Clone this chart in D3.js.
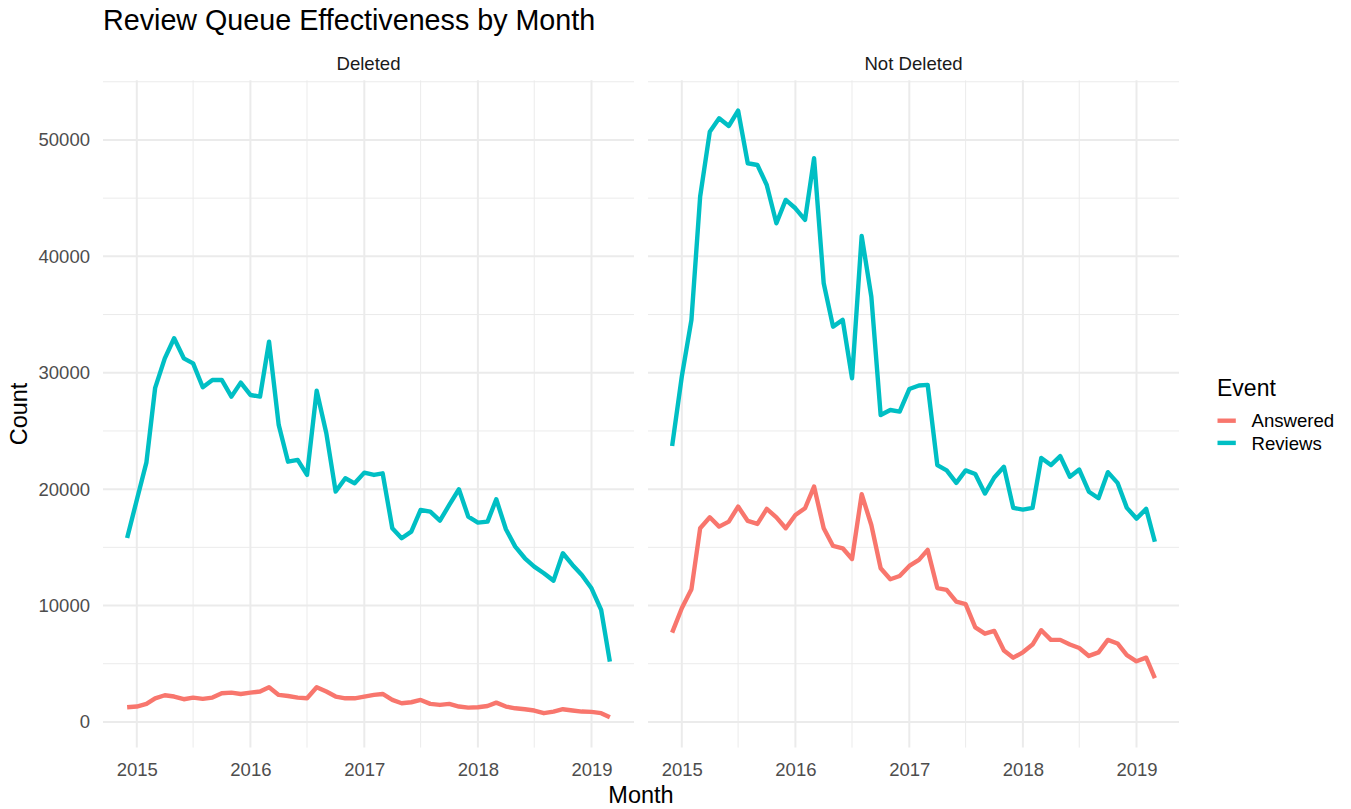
<!DOCTYPE html>
<html><head><meta charset="utf-8">
<script src="https://cdn.jsdelivr.net/npm/d3@7"></script>
<style>
body{margin:0;background:#fff}
text{font-family:"Liberation Sans",Arial,Helvetica,sans-serif}
</style>
</head><body>
<svg id="chart" width="1351" height="809"></svg>
<script>
// ---------- DATA ----------
const months = ["2014-12","2015-01","2015-02","2015-03","2015-04","2015-05","2015-06","2015-07","2015-08","2015-09","2015-10","2015-11","2015-12",
"2016-01","2016-02","2016-03","2016-04","2016-05","2016-06","2016-07","2016-08","2016-09","2016-10","2016-11","2016-12",
"2017-01","2017-02","2017-03","2017-04","2017-05","2017-06","2017-07","2017-08","2017-09","2017-10","2017-11","2017-12",
"2018-01","2018-02","2018-03","2018-04","2018-05","2018-06","2018-07","2018-08","2018-09","2018-10","2018-11","2018-12",
"2019-01","2019-02","2019-03"];
const facets = ["Deleted","Not Deleted"];
const events = ["Answered","Reviews"];
const eventColors = ["#F8766D","#00BFC4"];

const deletedAnswered = [1260,1320,1550,2030,2290,2180,1950,2090,1980,2090,2460,2520,2400,
2520,2610,2980,2320,2230,2090,2030,2980,2610,2180,2030,2030,
2180,2320,2400,1890,1600,1690,1890,1550,1460,1550,1320,1230,
1260,1370,1660,1320,1170,1090,980,750,890,1090,980,890,
860,750,400];
const deletedReviews = [15800,19070,22300,28700,31240,32960,31240,30810,28750,29380,29380,27950,29150,
28090,27950,32670,25520,22360,22510,21220,28460,24800,19790,20940,20500,
21420,21220,21360,16640,15780,16350,18210,18070,17300,18640,19990,17640,
17120,17210,19130,16550,15060,14060,13340,12770,12140,14490,13490,12630,
11480,9620,5180];
const notDeletedAnswered = [7670,9770,11400,16640,17580,16780,17210,18500,17270,17010,18300,17580,16640,
17780,18360,20220,16640,15120,14920,14000,19560,16920,13200,12260,12540,
13400,13920,14780,11500,11340,10330,10120,8130,7580,7820,6130,5520,
5980,6650,7880,7050,7050,6650,6350,5670,5980,7050,6740,5730,
5210,5520,3770];
const notDeletedReviews = [23710,29670,34540,45130,50710,51860,51200,52520,48000,47850,46130,42840,44850,
44130,43130,48430,37690,33960,34540,29530,41750,36540,26370,26800,26660,
28600,28900,28960,22070,21610,20540,21610,21300,19620,21000,21920,18390,
18240,18390,22680,22070,22830,21060,21680,19780,19220,21460,20540,18390,
17470,18300,15480];

const yTicks = [0,10000,20000,30000,40000,50000];
const xTickLabels = ["2015","2016","2017","2018","2019"];

// ---------- LAYOUT ----------
const svg = d3.select("#chart");
const plotLeft = 103, plotRight = 1179, panelGap = 14;
const panelW = (plotRight - plotLeft - panelGap) / 2;
const panelTop = 80.3, panelBottom = 747.6;
const font = '"Liberation Sans",Arial,Helvetica,sans-serif';

const parse = d3.timeParse("%Y-%m");
const dates = months.map(parse);

const seriesByFacet = [
  [deletedAnswered, deletedReviews],
  [notDeletedAnswered, notDeletedReviews]
];

// shared scales (ggplot-like 5% expansion)
const allVals = seriesByFacet.flat(2);
const yMin = d3.min(allVals), yMax = d3.max(allVals);
const yPad = (yMax - yMin) * 0.05;
const y = d3.scaleLinear().domain([yMin - yPad, yMax + yPad]).range([panelBottom, panelTop]);

const t0 = dates[0].getTime(), t1 = dates[dates.length-1].getTime();
const tPad = (t1 - t0) * 0.05;
const xDomain = [new Date(t0 - tPad), new Date(t1 + tPad)];

const yMinor = d3.range(5000, 60000, 10000).filter(v => v > y.domain()[0] && v < y.domain()[1]);
const xTickDates = xTickLabels.map(s => new Date(+s, 0, 1));
const xMinorDates = xTickLabels.map(s => new Date(+s, 6, 1))
  .concat([new Date(+xTickLabels[0]-1, 6, 1)])
  .filter(d => d > xDomain[0] && d < xDomain[1]);

// ---------- TITLE ----------
svg.append("text").attr("x", 103).attr("y", 29.5)
  .attr("font-size", 28.7).attr("fill", "#000")
  .text("Review Queue Effectiveness by Month");

facets.forEach((fname, fi) => {
  const px0 = plotLeft + fi * (panelW + panelGap);
  const x = d3.scaleTime().domain(xDomain).range([px0, px0 + panelW]);
  const g = svg.append("g");

  // minor grid
  g.selectAll("line.ymin").data(yMinor).join("line")
    .attr("x1", px0).attr("x2", px0 + panelW)
    .attr("y1", d => y(d)).attr("y2", d => y(d))
    .attr("stroke", "#ebebeb").attr("stroke-width", 1);
  g.selectAll("line.xmin").data(xMinorDates).join("line")
    .attr("y1", panelTop).attr("y2", panelBottom)
    .attr("x1", d => x(d)).attr("x2", d => x(d))
    .attr("stroke", "#ebebeb").attr("stroke-width", 1);
  // major grid
  g.selectAll("line.ymaj").data(yTicks).join("line")
    .attr("x1", px0).attr("x2", px0 + panelW)
    .attr("y1", d => y(d)).attr("y2", d => y(d))
    .attr("stroke", "#ebebeb").attr("stroke-width", 2);
  g.selectAll("line.xmaj").data(xTickDates).join("line")
    .attr("y1", panelTop).attr("y2", panelBottom)
    .attr("x1", d => x(d)).attr("x2", d => x(d))
    .attr("stroke", "#ebebeb").attr("stroke-width", 2);

  // strip label
  svg.append("text").attr("x", px0 + panelW / 2).attr("y", 70)
    .attr("text-anchor", "middle").attr("font-size", 18.6).attr("fill", "#1a1a1a")
    .text(fname);

  // lines
  const line = d3.line().x((d, i) => x(dates[i])).y(d => y(d));
  seriesByFacet[fi].forEach((vals, si) => {
    g.append("path").datum(vals)
      .attr("d", line)
      .attr("fill", "none")
      .attr("stroke", eventColors[si])
      .attr("stroke-width", 4.4)
      .attr("stroke-linejoin", "round")
      .attr("stroke-linecap", "butt");
  });

  // x axis
  const xAxis = d3.axisBottom(x).tickValues(xTickDates)
    .tickFormat(d3.timeFormat("%Y")).tickSize(0).tickPadding(15);
  const xa = svg.append("g").attr("transform", `translate(0,${panelBottom})`).call(xAxis);
  xa.select(".domain").remove();
  xa.selectAll("text").attr("font-size", 18.5).attr("fill", "#4d4d4d").attr("font-family", font);

  if (fi === 0) {
    const yAxis = d3.axisLeft(y).tickValues(yTicks).tickFormat(d3.format("d")).tickSize(0).tickPadding(13);
    const ya = svg.append("g").attr("transform", `translate(${px0},0)`).call(yAxis);
    ya.select(".domain").remove();
    ya.selectAll("text").attr("font-size", 18.5).attr("fill", "#4d4d4d").attr("font-family", font);
  }
});

// axis titles
svg.append("text").attr("x", (plotLeft + plotRight) / 2).attr("y", 803)
  .attr("text-anchor", "middle").attr("font-size", 23.5).attr("fill", "#000").text("Month");
svg.append("text").attr("transform", `translate(27,${(panelTop + panelBottom) / 2}) rotate(-90)`)
  .attr("text-anchor", "middle").attr("font-size", 23.5).attr("fill", "#000").text("Count");

// legend
const lg = svg.append("g");
lg.append("text").attr("x", 1217).attr("y", 396).attr("font-size", 23).attr("fill", "#000").text("Event");
events.forEach((ev, i) => {
  const ky = 420.7 + i * 22.2;
  lg.append("line").attr("x1", 1217.5).attr("x2", 1235.8).attr("y1", ky).attr("y2", ky)
    .attr("stroke", eventColors[i]).attr("stroke-width", 4.4);
  lg.append("text").attr("x", 1251.5).attr("y", ky + 6.7).attr("font-size", 18.6).attr("fill", "#000").text(ev);
});
</script>
</body></html>
